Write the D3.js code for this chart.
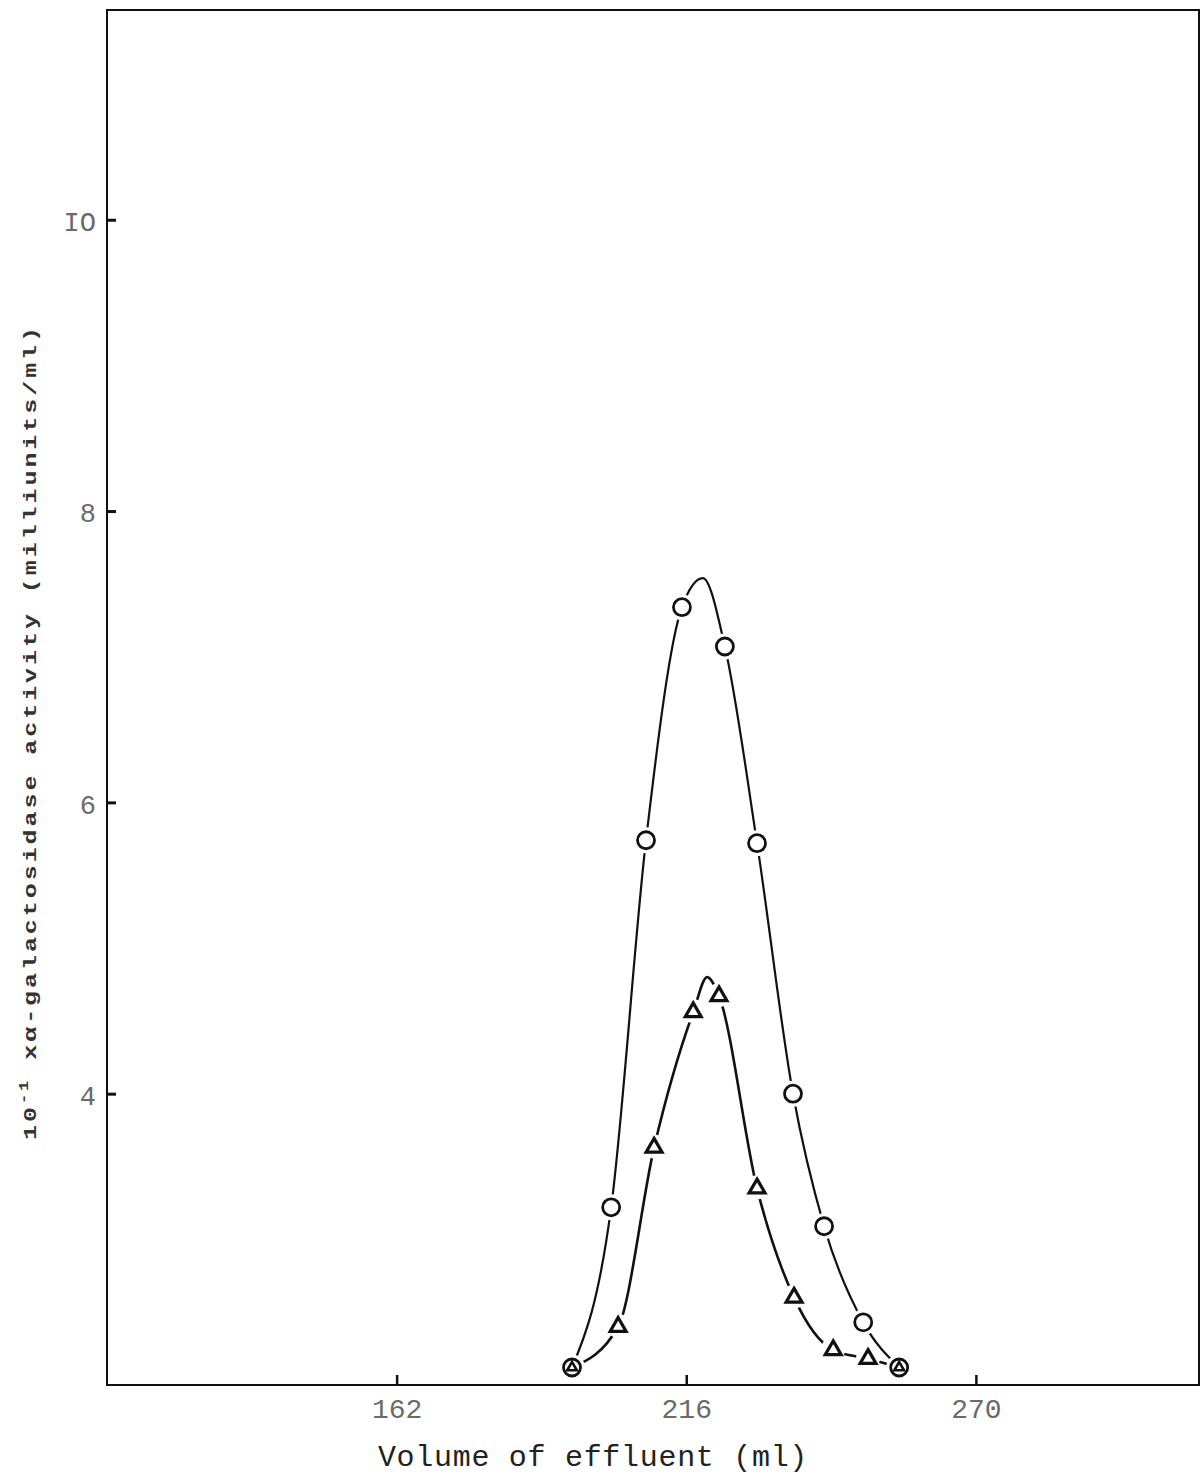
<!DOCTYPE html>
<html>
<head>
<meta charset="utf-8">
<script src="https://cdn.jsdelivr.net/npm/d3@7"></script>
<style>
  body { margin: 0; background: #fff; }
  svg { display: block; }
  .tick text { font-family: "Liberation Mono", "DejaVu Sans Mono", monospace; fill: #6a6a6a; }
</style>
</head>
<body>
<svg id="chart" width="1201" height="1475"></svg>
<script>
// Effluent volume (ml) and activity for the two series
const volCircle = [194.7, 202.0, 208.5, 215.2, 223.2, 229.2, 235.9, 241.7, 249.0, 255.7];
const actCircle = [2.12, 3.22, 5.74, 7.34, 7.07, 5.72, 4.00, 3.09, 2.43, 2.12];
const volTriangle = [194.7, 203.3, 210.0, 217.3, 222.1, 229.2, 236.1, 243.4, 249.9, 255.7];
const actTriangle = [2.12, 2.40, 3.63, 4.56, 4.67, 3.35, 2.60, 2.24, 2.18, 2.12];
// apex of the hand-drawn curves (between 4th and 5th points)
const circlePeak = [219.1, 7.54];
const trianglePeak = [219.9, 4.80];

const xTicks = [162, 216, 270];
const yTicks = [4, 6, 8, 10];
const yTickLabels = ["4", "6", "8", "IO"];

const svg = d3.select("#chart");
const margin = { top: 10, right: 2, bottom: 90, left: 107 };
const width = 1201 - margin.left - margin.right;
const height = 1475 - margin.top - margin.bottom;

const x = d3.scaleLinear().domain([108, 311.6]).range([0, width]);
const y = d3.scaleLinear().domain([2, 11.44]).range([height, 0]);

const g = svg.append("g").attr("transform", `translate(${margin.left},${margin.top})`);

// frame
g.append("rect")
  .attr("width", width).attr("height", height)
  .attr("fill", "none").attr("stroke", "#111").attr("stroke-width", 2);

const xAxis = g.append("g")
  .attr("transform", `translate(0,${height})`)
  .call(d3.axisBottom(x).tickValues(xTicks).tickSizeInner(-10).tickSizeOuter(0).tickPadding(27));
xAxis.select(".domain").remove();
xAxis.selectAll(".tick line").attr("stroke", "#111").attr("stroke-width", 2.5);
xAxis.selectAll(".tick text").attr("font-size", 28).attr("dy", "0.2em");

const yAxis = g.append("g")
  .call(d3.axisLeft(y).tickValues(yTicks).tickSizeInner(-9).tickSizeOuter(0).tickPadding(11)
    .tickFormat((d, i) => yTickLabels[i]));
yAxis.select(".domain").remove();
yAxis.selectAll(".tick line").attr("stroke", "#111").attr("stroke-width", 3);
yAxis.selectAll(".tick text").attr("font-size", 27).attr("dy", "0.4em");

// curves
function curvePoints(vols, acts, peak) {
  const pts = vols.map((v, i) => [v, acts[i]]);
  pts.splice(4, 0, peak);
  return pts;
}
const line = d3.line()
  .x((d) => x(d[0]))
  .y((d) => y(d[1]))
  .curve(d3.curveMonotoneX);

g.append("path")
  .datum(curvePoints(volTriangle, actTriangle, trianglePeak))
  .attr("d", line)
  .attr("fill", "none").attr("stroke", "#111").attr("stroke-width", 2.6);

g.append("path")
  .datum(curvePoints(volCircle, actCircle, circlePeak))
  .attr("d", line)
  .attr("fill", "none").attr("stroke", "#111").attr("stroke-width", 2.2);

// markers
const circles = volCircle.map((v, i) => ({ v, a: actCircle[i] }));
const triangles = volTriangle.map((v, i) => ({
  v, a: actTriangle[i],
  shared: circles.some((c) => c.v === v && c.a === actTriangle[i]),
}));

g.append("g").selectAll("circle")
  .data(circles).enter().append("circle")
  .attr("cx", (d) => x(d.v)).attr("cy", (d) => y(d.a))
  .attr("r", 13).attr("fill", "#fff");
g.append("g").selectAll("circle")
  .data(triangles.filter((d) => !d.shared)).enter().append("circle")
  .attr("cx", (d) => x(d.v)).attr("cy", (d) => y(d.a) - 1)
  .attr("r", 12).attr("fill", "#fff");

g.append("g").selectAll("circle")
  .data(circles).enter().append("circle")
  .attr("cx", (d) => x(d.v)).attr("cy", (d) => y(d.a))
  .attr("r", 8.5).attr("fill", "#fff")
  .attr("stroke", "#111").attr("stroke-width", 2.8);

const tri = d3.symbol().type(d3.symbolTriangle);
g.append("g").selectAll("path")
  .data(triangles).enter().append("path")
  .attr("transform", (d) => `translate(${x(d.v)},${y(d.a)})`)
  .attr("d", (d) => tri.size(d.shared ? 40 : 110)())
  .attr("fill", "#fff")
  .attr("stroke", "#111").attr("stroke-width", (d) => (d.shared ? 2.6 : 3.2))
  .attr("stroke-linejoin", "miter");

// axis titles
svg.append("text")
  .attr("x", 593).attr("y", 1466)
  .attr("text-anchor", "middle")
  .attr("font-family", "Liberation Mono, DejaVu Sans Mono, monospace")
  .attr("font-size", 30).attr("letter-spacing", 0.7)
  .attr("fill", "#222")
  .text("Volume of effluent (ml)");

const yTitle = svg.append("text")
  .attr("transform", "translate(36,732) rotate(-90) scale(1.32,1)")
  .attr("text-anchor", "middle")
  .attr("font-family", "Liberation Mono, DejaVu Sans Mono, monospace")
  .attr("font-size", 19).attr("font-weight", "bold").attr("letter-spacing", 2.2)
  .attr("fill", "#333");
yTitle.append("tspan").text("10");
yTitle.append("tspan").attr("font-size", 13).attr("dy", -8).text("-1");
yTitle.append("tspan").attr("dy", 8).text(" x\u03b1-galactosidase activity (milliunits/ml)");
</script>
</body>
</html>
